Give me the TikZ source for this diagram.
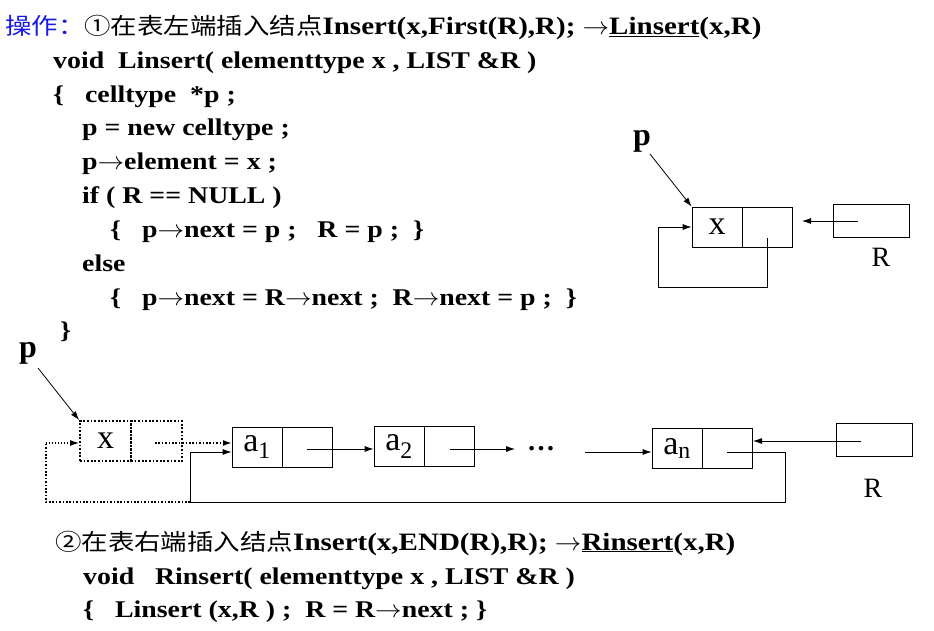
\documentclass[tikz,border=0pt]{standalone}
\usepackage{fontspec}
\setmainfont{Liberation Serif}
\newfontfamily\cjk{Noto Sans CJK SC}
\usepackage{graphicx}
\usetikzlibrary{arrows.meta,calc}
\definecolor{opblue}{RGB}{25,25,230}
\newcommand\hsx[1]{\scalebox{1.16}[1]{#1}}
\newcommand\ra{\scalebox{0.92}[1]{$\rightarrow$}}
\newcommand\zh[1]{{\mdseries\cjk\fontsize{22.8}{26}\selectfont #1}}
\newcommand\tl[1]{{\fontsize{25}{28}\selectfont #1}}
\begin{document}
\begin{tikzpicture}[x=1pt,y=-1pt,
  code/.style={anchor=base west,inner sep=0pt,font=\fontsize{24}{28}\selectfont\bfseries},
  cell/.style={draw,line width=0.8pt,minimum width=50pt,minimum height=40pt,inner sep=0pt,font=\fontsize{34}{36}\selectfont},
  dcell/.style={draw,line width=1.8pt,dash pattern=on 1.8pt off 1.8pt,minimum width=51pt,minimum height=40pt,inner sep=0pt,font=\fontsize{34}{36}\selectfont},
  rbox/.style={draw,line width=0.8pt,minimum width=76pt,minimum height=33pt,inner sep=0pt},
  lbl/.style={inner sep=0pt,font=\fontsize{28}{30}\selectfont},
  plbl/.style={inner sep=0pt,font=\fontsize{32}{34}\selectfont\bfseries},
  arr/.style={-{Latex[length=9pt,width=6pt]},line width=0.8pt},
  link/.style={line width=0.8pt},
  dlink/.style={line width=1.6pt,dash pattern=on 1.6pt off 1.8pt},
]
\useasboundingbox (0,0) rectangle (934,631);
% ---------- code text ----------
\node[code] (t0) at (5,35) {\hsx{\zh{\color{opblue}操作：}\zh{①在表左端插入结点}\tl{Insert(x,First(R),R); \ra\underline{Linsert}(x,R)}}};
\node[code] (t1) at (53,69) {\hsx{void\ \ Linsert( elementtype x , LIST \&R )}};
\node[code] (t2) at (53,103) {\hsx{\{\ \ \ celltype\ \ *p ;}};
\node[code] (t3) at (82,136) {\hsx{p = new celltype ;}};
\node[code] (t4) at (82,170) {\hsx{p\ra element = x ;}};
\node[code] (t5) at (82,204) {\hsx{if ( R == NULL )}};
\node[code] (t6) at (110,237) {\hsx{\{\ \ \ p\ra next = p ;\ \ \ R = p ;\ \ \}}};
\node[code] (t7) at (82,271) {\hsx{else}};
\node[code] (t8) at (110,305) {\hsx{\{\ \ \ p\ra next = R\ra next ;\ \ R\ra next = p ;\ \ \}}};
\node[code] (t9) at (60,338) {\hsx{\}}};
\node[code] (b0) at (55,550) {\hsx{\zh{②在表右端插入结点}\tl{Insert(x,END(R),R); \ra\underline{Rinsert}(x,R)}}};
\node[code] (b1) at (83,584) {\hsx{void\ \ \ Rinsert( elementtype x , LIST \&R )}};
\node[code] (b2) at (83,617) {\hsx{\{\ \ \ Linsert (x,R ) ;\ \ R = R\ra next ; \}}};
% ---------- upper diagram ----------
\node[cell] (rxd) at (717,227) {x};
\node[cell] (rxn) at (767,227) {};
\node[rbox] (rR) at (871,220.5) {};
\node[lbl] (rRl) at (881,257) {R};
\node[plbl] (rp) at (642,141) {p};
\draw[arr] (650,154) -- (rxd.north west);
\coordinate (rl0) at (767,238);
\coordinate (rl1) at (658,287);
\draw[arr] (rl0) |- (rl1) |- (rxd.west);
\coordinate (rRs) at (858,221);
\coordinate (rRt) at (802,221);
\draw[arr] (rRs) -- (rRt);
% ---------- lower diagram ----------
\node[dcell] (xd) at (105.5,441) {x};
\node[dcell] (xn) at (156.5,441) {};
\node[cell] (a1d) at (257,447) {a\textsubscript{1}};
\node[cell] (a1n) at (307,447) {};
\node[cell] (a2d) at (399,446.5) {a\textsubscript{2}};
\node[cell] (a2n) at (449,446.5) {};
\node[inner sep=0pt,font=\fontsize{28}{30}\selectfont\bfseries] (dots) at (541,449) {…};
\node[cell] (and) at (677,448.5) {a\textsubscript{n}};
\node[cell] (ann) at (727,448.5) {};
\node[rbox] (bR) at (874,439.5) {};
\node[lbl] (bRl) at (873,488) {R};
\node[plbl] (bp) at (28,353) {p};
\draw[arr] (38,368) -- (xd.north west);
\coordinate (xs) at (155,443);
\coordinate (a1in) at (232,443);
\draw[dlink,-{Latex[length=9pt,width=6pt]}] (xs) -- (a1in);
\draw[arr] (a1n.center |- 0,449) -- (a2d.west |- 0,449);
\coordinate (a2s) at (450,449);
\coordinate (a2t) at (515,449);
\draw[arr] (a2s) -- (a2t);
\coordinate (ans) at (585,452);
\draw[arr] (ans) -- (and.west |- ans);
\coordinate (l0) at (727,452);
\coordinate (l1) at (785,502);
\coordinate (l2) at (190,502);
\coordinate (l3) at (190,452);
\draw[link] (l0) -| (l1) -- (l2);
\draw[arr] (l2) -- (l3) -- (a1d.west |- l3);
\coordinate (d1) at (46,502);
\coordinate (d2) at (46,443);
\draw[dlink] (l2) -- (d1) -- (d2);
\draw[arr,dash pattern=on 1.4pt off 1.6pt,line width=1.2pt] (d2) -- (xd.west |- d2);
\coordinate (bRs) at (861,441);
\coordinate (bRt) at (753,441);
\draw[arr] (bRs) -- (bRt);
\end{tikzpicture}
\end{document}
